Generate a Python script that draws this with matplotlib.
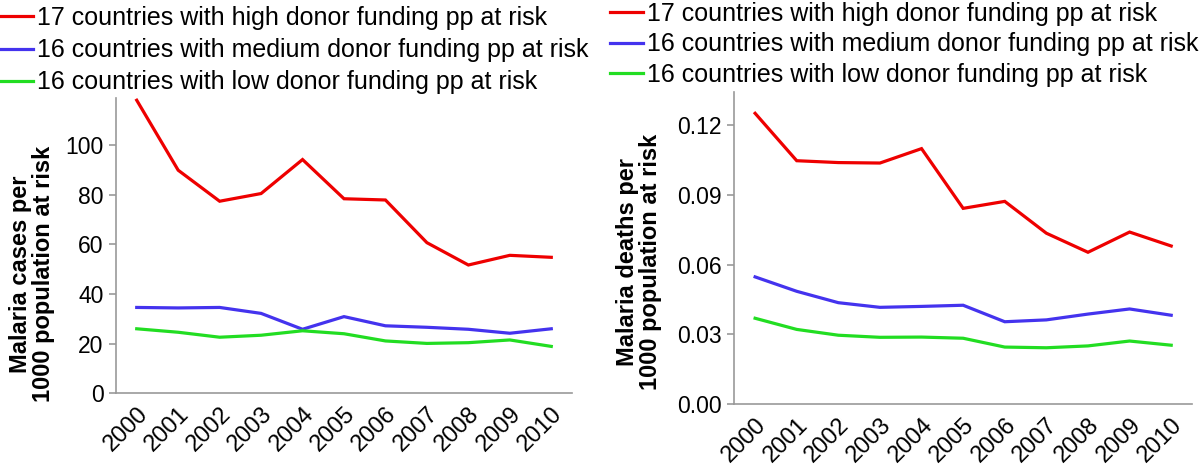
import matplotlib
matplotlib.use("Agg")
import matplotlib.pyplot as plt
from matplotlib.ticker import FormatStrFormatter

plt.rcParams['font.family'] = ['Liberation Sans', 'DejaVu Sans']

years = ['2000', '2001', '2002', '2003', '2004', '2005', '2006', '2007', '2008', '2009', '2010']
labels = ['17 countries with high donor funding pp at risk',
          '16 countries with medium donor funding pp at risk',
          '16 countries with low donor funding pp at risk']

cases_high = [118.1, 89.9, 77.4, 80.5, 94.2, 78.4, 77.9, 60.7, 51.7, 55.6, 54.8]
cases_medium = [34.6, 34.4, 34.6, 32.2, 25.8, 30.9, 27.2, 26.6, 25.8, 24.2, 26.0]
cases_low = [26.0, 24.6, 22.6, 23.4, 25.2, 24.0, 21.1, 20.1, 20.4, 21.5, 18.9]

deaths_high = [0.1251, 0.1047, 0.1039, 0.1037, 0.1099, 0.0842, 0.0872, 0.0735, 0.0653, 0.0740, 0.0680]
deaths_medium = [0.0547, 0.0485, 0.0436, 0.0416, 0.0420, 0.0425, 0.0354, 0.0362, 0.0387, 0.0409, 0.0382]
deaths_low = [0.0369, 0.0321, 0.0296, 0.0287, 0.0288, 0.0283, 0.0245, 0.0242, 0.0250, 0.0271, 0.0253]

cases_ticks = [0, 20, 40, 60, 80, 100]
deaths_ticks = [0.00, 0.03, 0.06, 0.09, 0.12]

colors = ['#EE0000', '#4433EE', '#22DD22']
spine_c = '#999999'

fig = plt.figure(figsize=(12, 4.66), dpi=100)
axL = fig.add_axes([116/1200, 1-393.3/466, (572-116)/1200, (393.3-98)/466])
axR = fig.add_axes([734.3/1200, 1-404/466, (1192-734.3)/1200, (404-91.7)/466])

x = list(range(len(years)))

def style(ax, ticks, ylim, fmt, ylabel):
    for s in ['top', 'right']:
        ax.spines[s].set_visible(False)
    for s in ['left', 'bottom']:
        ax.spines[s].set_color(spine_c)
        ax.spines[s].set_linewidth(1.2)
    ax.set_xlim(-0.5, len(years) - 0.5)
    ax.set_ylim(*ylim)
    ax.set_yticks(ticks)
    if fmt:
        ax.yaxis.set_major_formatter(FormatStrFormatter(fmt))
    ax.set_xticks(x)
    ax.set_xticklabels(years, rotation=45, ha='right', rotation_mode='anchor')
    ax.tick_params(axis='y', length=5, width=1.2, color=spine_c, labelsize=16.5, pad=4)
    ax.tick_params(axis='x', length=0, labelsize=17, pad=7)
    ax.set_ylabel(ylabel, fontsize=17, fontweight='bold', linespacing=1.0)

hl = []
for vals, c in zip([cases_high, cases_medium, cases_low], colors):
    h, = axL.plot(x, vals, color=c, lw=2.3, solid_joinstyle='miter')
    hl.append(h)
for vals, c in zip([deaths_high, deaths_medium, deaths_low], colors):
    axR.plot(x, vals, color=c, lw=2.3, solid_joinstyle='miter')

style(axL, cases_ticks, (0, 119), None, 'Malaria cases per\n1000 population at risk')
style(axR, deaths_ticks, (0, 0.1344), '%.2f', 'Malaria deaths per\n1000 population at risk')
axL.yaxis.set_label_coords(-0.134, 0.404)
axR.yaxis.set_label_coords(-0.158, 0.455)

leg_kw = dict(loc='upper left', frameon=False, fontsize=18, handlelength=1.32,
              handletextpad=0.16, borderpad=0, borderaxespad=0)
fig.legend(hl, labels, bbox_to_anchor=(0/1200, 1 - 6.0/466), labelspacing=0.33, **leg_kw)
fig.legend(hl, labels, bbox_to_anchor=(610/1200, 1 - 2.0/466), labelspacing=0.26, **leg_kw)

fig.savefig('out.png', dpi=100)
